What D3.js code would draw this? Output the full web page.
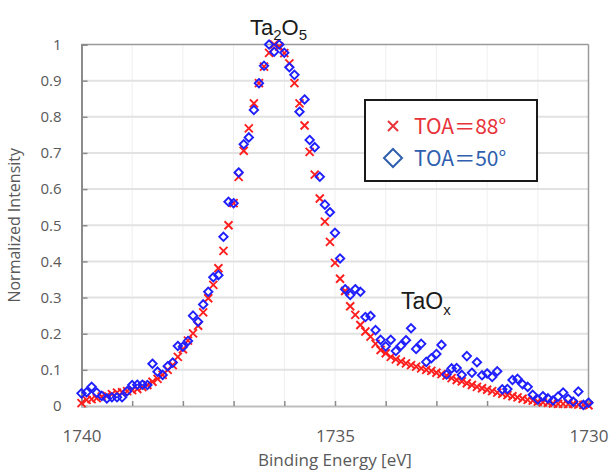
<!DOCTYPE html>
<html>
<head>
<meta charset="utf-8">
<script src="https://cdn.jsdelivr.net/npm/d3@7/dist/d3.min.js"></script>
<style>
  html, body { margin: 0; padding: 0; background: #fff; }
  svg { display: block; }
</style>
</head>
<body>
<div id="chart"></div>
<script>
// Binding energies (eV), 0.1 eV steps from 1740 down to 1730
const energies = [
  1740.0, 1739.9, 1739.8, 1739.7, 1739.6, 1739.5, 1739.4, 1739.3, 1739.2, 1739.1,
  1739.0, 1738.9, 1738.8, 1738.7, 1738.6, 1738.5, 1738.4, 1738.3, 1738.2, 1738.1,
  1738.0, 1737.9, 1737.8, 1737.7, 1737.6, 1737.5, 1737.4, 1737.3, 1737.2, 1737.1,
  1737.0, 1736.9, 1736.8, 1736.7, 1736.6, 1736.5, 1736.4, 1736.3, 1736.2, 1736.1,
  1736.0, 1735.9, 1735.8, 1735.7, 1735.6, 1735.5, 1735.4, 1735.3, 1735.2, 1735.1,
  1735.0, 1734.9, 1734.8, 1734.7, 1734.6, 1734.5, 1734.4, 1734.3, 1734.2, 1734.1,
  1734.0, 1733.9, 1733.8, 1733.7, 1733.6, 1733.5, 1733.4, 1733.3, 1733.2, 1733.1,
  1733.0, 1732.9, 1732.8, 1732.7, 1732.6, 1732.5, 1732.4, 1732.3, 1732.2, 1732.1,
  1732.0, 1731.9, 1731.8, 1731.7, 1731.6, 1731.5, 1731.4, 1731.3, 1731.2, 1731.1,
  1731.0, 1730.9, 1730.8, 1730.7, 1730.6, 1730.5, 1730.4, 1730.3, 1730.2, 1730.1,
  1730.0
];

// Normalized intensity, take-off angle 88°
const toa88 = [
  0.008, 0.017, 0.019, 0.022, 0.026, 0.028, 0.033, 0.037, 0.038, 0.041,
  0.044, 0.047, 0.052, 0.058, 0.067, 0.075, 0.086, 0.100, 0.113, 0.136,
  0.157, 0.181, 0.201, 0.222, 0.259, 0.298, 0.335, 0.381, 0.429, 0.500,
  0.561, 0.634, 0.706, 0.768, 0.837, 0.893, 0.939, 0.977, 1.000, 0.994,
  0.976, 0.948, 0.893, 0.837, 0.776, 0.703, 0.640, 0.574, 0.510, 0.454,
  0.396, 0.352, 0.318, 0.276, 0.252, 0.224, 0.206, 0.192, 0.172, 0.155,
  0.146, 0.136, 0.129, 0.123, 0.118, 0.113, 0.109, 0.104, 0.100, 0.097,
  0.092, 0.088, 0.084, 0.077, 0.072, 0.068, 0.063, 0.058, 0.053, 0.049,
  0.045, 0.041, 0.037, 0.034, 0.030, 0.027, 0.024, 0.020, 0.017, 0.015,
  0.012, 0.010, 0.009, 0.007, 0.006, 0.006, 0.005, 0.006, 0.004, 0.003,
  0.002
];

// Normalized intensity, take-off angle 50°
const toa50 = [
  0.035, 0.038, 0.053, 0.037, 0.028, 0.021, 0.024, 0.024, 0.024, 0.041,
  0.058, 0.059, 0.059, 0.058, 0.117, 0.095, 0.086, 0.110, 0.120, 0.166,
  0.164, 0.180, 0.250, 0.233, 0.281, 0.316, 0.356, 0.362, 0.468, 0.565,
  0.561, 0.646, 0.724, 0.743, 0.819, 0.893, 0.941, 1.000, 0.980, 1.000,
  0.977, 0.937, 0.916, 0.814, 0.848, 0.736, 0.716, 0.634, 0.557, 0.536,
  0.479, 0.408, 0.323, 0.307, 0.323, 0.316, 0.246, 0.249, 0.210, 0.183,
  0.165, 0.183, 0.152, 0.167, 0.182, 0.215, 0.158, 0.172, 0.122, 0.132,
  0.144, 0.169, 0.087, 0.104, 0.105, 0.086, 0.138, 0.092, 0.121, 0.085,
  0.090, 0.080, 0.096, 0.046, 0.047, 0.072, 0.075, 0.060, 0.053, 0.031,
  0.018, 0.027, 0.021, 0.015, 0.026, 0.037, 0.020, 0.012, 0.040, 0.003,
  0.009
];

const xTickLabels = [1740, 1735, 1730];
const xGridValues = [1739, 1738, 1737, 1736, 1735, 1734, 1733, 1732, 1731];
const yTickValues = [0, 0.1, 0.2, 0.3, 0.4, 0.5, 0.6, 0.7, 0.8, 0.9, 1];
const legendLabels = ["TOA\uFF1D88\u00B0", "TOA\uFF1D50\u00B0"];

const W = 610, H = 472;
const plot = { left: 81.5, right: 588.5, top: 44.5, bottom: 406 };

const x = d3.scaleLinear().domain([1740, 1730]).range([plot.left, plot.right]);
const y = d3.scaleLinear().domain([0, 1]).range([plot.bottom, plot.top]);

const svg = d3.select("#chart").append("svg")
  .attr("width", W).attr("height", H)
  .attr("font-family", "'Open Sans', 'Noto Sans', sans-serif");

// vertical grid (every 1 eV)
svg.append("g").selectAll("line").data(xGridValues).join("line")
  .attr("x1", d => x(d)).attr("x2", d => x(d))
  .attr("y1", plot.top).attr("y2", plot.bottom)
  .attr("stroke", "#efefef").attr("stroke-width", 1);

// horizontal grid (every 0.1)
svg.append("g").selectAll("line").data(yTickValues.filter(v => v > 0 && v < 1)).join("line")
  .attr("x1", plot.left).attr("x2", plot.right)
  .attr("y1", d => y(d)).attr("y2", d => y(d))
  .attr("stroke", "#e2e2e2").attr("stroke-width", 2);

// top and right frame
svg.append("line").attr("x1", plot.left).attr("x2", plot.right)
  .attr("y1", plot.top).attr("y2", plot.top)
  .attr("stroke", "#9a9a9a").attr("stroke-width", 1.5);
svg.append("line").attr("x1", plot.right).attr("x2", plot.right)
  .attr("y1", plot.top).attr("y2", plot.bottom)
  .attr("stroke", "#9a9a9a").attr("stroke-width", 1.5);

// y axis
const yAxis = d3.axisLeft(y).tickValues(yTickValues)
  .tickFormat(d => d === 0 ? "0" : d === 1 ? "1" : d3.format(".1f")(d))
  .tickSize(-6).tickPadding(20);
const gy = svg.append("g").attr("transform", `translate(${plot.left},0)`).call(yAxis);
gy.select(".domain").attr("stroke", "#8c8c8c").attr("stroke-width", 2);
gy.selectAll(".tick line").attr("stroke", "#8c8c8c").attr("stroke-width", 1.5);
gy.selectAll(".tick text").attr("fill", "#595959").attr("font-size", 15)
  .attr("font-family", "'Open Sans', sans-serif");

// x axis: minor ticks each eV, labels at 1740/1735/1730
const xAxis = d3.axisBottom(x).tickValues(d3.range(0, 11).map(i => 1740 - i))
  .tickFormat(d => xTickLabels.includes(d) ? String(d) : "")
  .tickSize(-5).tickPadding(24);
const gx = svg.append("g").attr("transform", `translate(0,${plot.bottom})`).call(xAxis);
gx.select(".domain").attr("stroke", "#bdbdbd").attr("stroke-width", 2);
gx.selectAll(".tick line").attr("stroke", "#8c8c8c").attr("stroke-width", 1.5);
gx.selectAll(".tick text").attr("fill", "#595959").attr("font-size", 17)
  .attr("font-family", "'Open Sans', sans-serif");

// axis titles
svg.append("text")
  .attr("transform", `translate(20,${(plot.top + plot.bottom) / 2}) rotate(-90)`)
  .attr("text-anchor", "middle").attr("fill", "#595959").attr("font-size", 16)
  .text("Normalized Intensity");
svg.append("text")
  .attr("x", (plot.left + plot.right) / 2).attr("y", 466)
  .attr("text-anchor", "middle").attr("fill", "#595959").attr("font-size", 17)
  .text("Binding Energy [eV]");

// data
const pts88 = energies.map((e, i) => ({ e, v: toa88[i] }));
const pts50 = energies.map((e, i) => ({ e, v: toa50[i] }));

const cross = 4;
const gRed = svg.append("g");
gRed.selectAll("path").data(pts88).join("path")
  .attr("transform", d => `translate(${x(d.e)},${y(d.v)})`)
  .attr("d", `M${-cross},${-cross}L${cross},${cross}M${-cross},${cross}L${cross},${-cross}`)
  .attr("stroke", "#ff1f1f").attr("stroke-width", 1.9).attr("fill", "none");

const dia = 4.2;
const gBlue = svg.append("g");
gBlue.selectAll("path").data(pts50).join("path")
  .attr("transform", d => `translate(${x(d.e)},${y(d.v)})`)
  .attr("d", `M0,${-dia}L${dia},0L0,${dia}L${-dia},0Z`)
  .attr("stroke", "#1f1fff").attr("stroke-width", 1.9).attr("fill", "none");

// peak labels
const t1 = svg.append("text").attr("x", 250).attr("y", 35)
  .attr("font-family", "'Liberation Sans', Arial, sans-serif")
  .attr("font-size", 22).attr("fill", "#1a1a1a");
t1.append("tspan").text("Ta");
t1.append("tspan").attr("font-size", 15).attr("dy", 5).text("2");
t1.append("tspan").attr("dy", -5).text("O");
t1.append("tspan").attr("font-size", 15).attr("dy", 5).text("5");

const t2 = svg.append("text").attr("x", 401).attr("y", 309)
  .attr("font-family", "'Liberation Sans', Arial, sans-serif")
  .attr("font-size", 23).attr("fill", "#1a1a1a");
t2.append("tspan").text("TaO");
t2.append("tspan").attr("font-size", 15).attr("dy", 6).text("x");

// legend
const lg = svg.append("g");
lg.append("rect").attr("x", 365).attr("y", 100).attr("width", 172).attr("height", 81)
  .attr("fill", "#fff").attr("stroke", "#1a1a1a").attr("stroke-width", 2);
const legendColors = ["#e8333a", "#2f5fae"];
lg.append("path")
  .attr("transform", "translate(393,126)")
  .attr("d", "M-5,-5L5,5M-5,5L5,-5")
  .attr("stroke", legendColors[0]).attr("stroke-width", 2).attr("fill", "none");
lg.append("path")
  .attr("transform", "translate(393,158)")
  .attr("d", "M0,-9L9,0L0,9L-9,0Z")
  .attr("stroke", legendColors[1]).attr("stroke-width", 2).attr("fill", "none");
lg.selectAll("text.lbl").data(legendLabels).join("text").attr("class", "lbl")
  .attr("x", 414).attr("y", (d, i) => 134 + i * 32)
  .attr("font-family", "'Noto Sans CJK JP', sans-serif")
  .attr("font-size", 21)
  .attr("fill", (d, i) => legendColors[i])
  .text(d => d);
</script>
</body>
</html>
